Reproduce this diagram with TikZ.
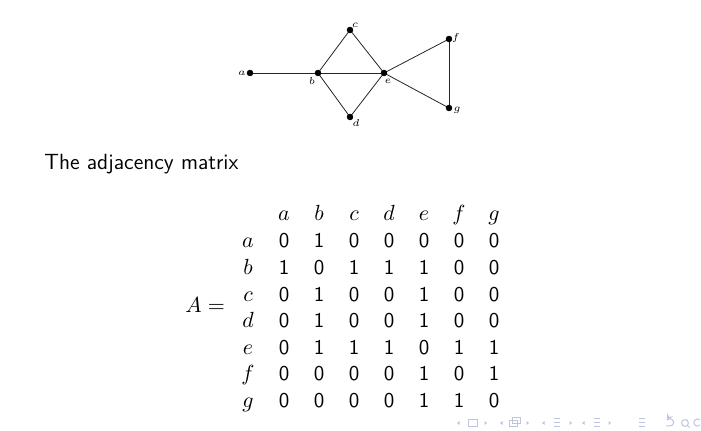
\documentclass[tikz,border=0pt]{standalone}
\usepackage{amsmath}
\usepackage{amssymb}
\usetikzlibrary{positioning}

\definecolor{navcol}{RGB}{190,196,222}
\tikzset{
    vlab/.style={font=\fontsize{5}{6}\selectfont, inner sep=0pt},
    entry/.style={font=\sffamily\fontsize{10.5}{12}\selectfont, anchor=base, inner sep=0pt},
    lab/.style={font=\fontsize{10.5}{12}\selectfont, anchor=base, inner sep=0pt},
    navtip/.style={fill=navcol},
    navline/.style={draw=navcol, line width=0.5pt}
}

\begin{document}
\begin{tikzpicture}[x=0.5pt, y=-0.5pt]

        \useasboundingbox (0,0) rectangle (701,431);

        \coordinate (a) at (250,73);
        \coordinate (b) at (318,73);
        \coordinate (c) at (350,30);
        \coordinate (d) at (350,117);
        \coordinate (e) at (384,73);
        \coordinate (f) at (449,39);
        \coordinate (g) at (449,108);

        \path[draw, black!85] (a) -- (b);
        \path[draw, black!85] (b) -- (c);
        \path[draw, black!85] (b) -- (d);
        \path[draw, black!85] (b) -- (e);
        \path[draw, black!85] (c) -- (e);
        \path[draw, black!85] (d) -- (e);
        \path[draw, black!85] (e) -- (f);
        \path[draw, black!85] (e) -- (g);
        \path[draw, black!85] (f) -- (g);

        \foreach \x in {a,...,g}
            \path[draw, fill] (\x) circle (1.4pt);

        \node[vlab] (la) at (242,73) {$a$};
        \node[vlab] (lb) at (312,81) {$b$};
        \node[vlab] (lc) at (355,25) {$c$};
        \node[vlab] (ld) at (356,123) {$d$};
        \node[vlab] (le) at (388,81) {$e$};
        \node[vlab] (lf) at (456,38) {$f$};
        \node[vlab] (lg) at (457,110) {$g$};

        \node[anchor=base west, inner sep=0pt, font=\sffamily\fontsize{11}{13}\selectfont] (title) at (44,170) {The adjacency matrix};

        % adjacency matrix
        \node[lab, anchor=base west] (A) at (185,313) {$A =$};
        \foreach \c [count=\j] in {a,b,c,d,e,f,g}
            \node[lab] (h\c) at ({284+(\j-1)*35},221) {$\c$};
        \foreach \r/\vals [count=\i] in {a/{0,1,0,0,0,0,0}, b/{1,0,1,1,1,0,0}, c/{0,1,0,0,1,0,0},
                d/{0,1,0,0,1,0,0}, e/{0,1,1,1,0,1,1}, f/{0,0,0,0,1,0,1}, g/{0,0,0,0,1,1,0}} {
            \node[lab] (r\r) at (248,{248+(\i-1)*26.6}) {$\r$};
            \foreach \v [count=\j] in \vals
                \node[entry] (m\i\j) at ({284+(\j-1)*35},{248+(\i-1)*26.6}) {\v};
        }

        % navigation symbols
        \foreach \x in {457,500,542,582}
            \path[navtip] (\x,423) -- ++(2.5,-2) -- ++(0,4) -- cycle;
        \foreach \x in {487,529,572,611}
            \path[navtip] (\x,423) -- ++(-2.5,-2) -- ++(0,4) -- cycle;
        \path[navline] (468.5,419.5) rectangle (477,426.5);
        \path[navline] (512,418) rectangle (520,424);
        \path[navline] (509,421) rectangle (517,427);
        \foreach \x in {557,597,642}
            \foreach \y in {419,423,427}
                \path[navline] (\x-3,\y) -- (\x+3,\y);
        \path[navline, ->, >=stealth] (666,426) -- (670,426) arc[start angle=-90, end angle=150, radius=1.8pt];
        \path[navline] (685,423) circle (1.7pt) (687,425) -- (689.5,427.5);
        \path[navline] (700,420) arc[start angle=45, end angle=315, radius=1.8pt];

    \end{tikzpicture}
\end{document}
